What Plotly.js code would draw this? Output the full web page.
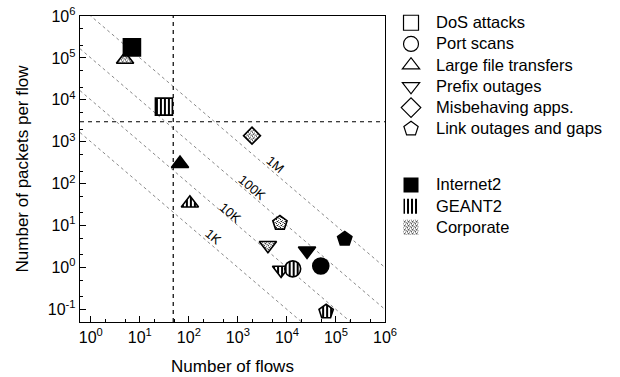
<!DOCTYPE html>
<html>
<head>
<meta charset="utf-8">
<script src="https://cdn.plot.ly/plotly-3.0.1.min.js"></script>
<style>
  html, body { margin: 0; padding: 0; background: #fff; }
  #chart { width: 620px; height: 377px; }
</style>
</head>
<body>
<div id="chart"></div>
<script>
// ---------------- data ----------------
const eventTypes = ['DoS attacks', 'Port scans', 'Large file transfers', 'Prefix outages', 'Misbehaving apps.', 'Link outages and gaps'];
const networks = ['Internet2', 'GEANT2', 'Corporate'];

const internet2Events = ['DoS attacks', 'Large file transfers', 'Prefix outages', 'Port scans', 'Link outages and gaps'];
const internet2Flows = [6.9, 66, 25700, 49000, 151000];
const internet2PktsPerFlow = [178000, 300, 2.5, 1.09, 4.8];

const geant2Events = ['DoS attacks', 'Large file transfers', 'Prefix outages', 'Port scans', 'Link outages and gaps'];
const geant2Flows = [31, 105, 7600, 13100, 63000];
const geant2PktsPerFlow = [6900, 34, 0.87, 0.93, 0.088];

const corporateEvents = ['Large file transfers', 'Misbehaving apps.', 'Link outages and gaps', 'Prefix outages'];
const corporateFlows = [5.0, 1940, 7200, 4100];
const corporatePktsPerFlow = [92000, 1400, 11.5, 3.4];

const packetTotals = [1e3, 1e4, 1e5, 1e6];           // iso-lines: flows x packets/flow
const packetTotalLabels = ['1K', '10K', '100K', '1M'];
const flowThreshold = 48;
const pktThreshold = 3000;

const xTickVals = [1, 10, 100, 1e3, 1e4, 1e5, 1e6];
const xTickText = ['10<sup>0</sup>', '10<sup>1</sup>', '10<sup>2</sup>', '10<sup>3</sup>', '10<sup>4</sup>', '10<sup>5</sup>', '10<sup>6</sup>'];
const yTickVals = [0.1, 1, 10, 100, 1e3, 1e4, 1e5, 1e6];
const yTickText = ['10<sup>-1</sup>', '10<sup>0</sup>', '10<sup>1</sup>', '10<sup>2</sup>', '10<sup>3</sup>', '10<sup>4</sup>', '10<sup>5</sup>', '10<sup>6</sup>'];

// ---------------- styles ----------------
const FONT = 'Liberation Sans, Arial, Helvetica, sans-serif';
const symbolOf = {
  'DoS attacks': 'square', 'Port scans': 'circle', 'Large file transfers': 'triangle-up',
  'Prefix outages': 'triangle-down', 'Misbehaving apps.': 'diamond', 'Link outages and gaps': 'pentagon'
};
const sizeOf = {
  'DoS attacks': 17, 'Port scans': 16, 'Large file transfers': 15,
  'Prefix outages': 15, 'Misbehaving apps.': 13, 'Link outages and gaps': 15
};
const netFill = { 'Internet2': '#000000', 'GEANT2': '#777777', 'Corporate': '#bbbbbb' };
const xLogRange = [-0.22, 6];
const yLogRange = [-1.3, 6];

const traces = [];

// iso-lines
packetTotals.forEach(function (c) {
  const xs = [Math.pow(10, xLogRange[0]), Math.pow(10, xLogRange[1])];
  traces.push({
    x: xs, y: xs.map(function (v) { return c / v; }),
    mode: 'lines', line: { color: '#888', width: 1, dash: 'dot' },
    showlegend: false, hoverinfo: 'skip'
  });
});
// threshold lines
traces.push({
  x: [flowThreshold, flowThreshold], y: [Math.pow(10, yLogRange[0]), Math.pow(10, yLogRange[1])],
  mode: 'lines', line: { color: '#000', width: 1.2, dash: '4px,4px' }, showlegend: false, hoverinfo: 'skip'
});
traces.push({
  x: [Math.pow(10, xLogRange[0]), Math.pow(10, xLogRange[1])], y: [pktThreshold, pktThreshold],
  mode: 'lines', line: { color: '#000', width: 1.2, dash: '4px,4px' }, showlegend: false, hoverinfo: 'skip'
});

function netTrace(name, events, flows, ppf) {
  return {
    name: name,
    x: flows, y: ppf, mode: 'markers', showlegend: false,
    marker: {
      symbol: events.map(function (e) { return symbolOf[e]; }),
      size: events.map(function (e) { return sizeOf[e]; }),
      color: netFill[name], opacity: 1,
      line: { color: '#000', width: 1.6 }
    }
  };
}
traces.push(netTrace('Corporate', corporateEvents, corporateFlows, corporatePktsPerFlow));
traces.push(netTrace('GEANT2', geant2Events, geant2Flows, geant2PktsPerFlow));
traces.push(netTrace('Internet2', internet2Events, internet2Flows, internet2PktsPerFlow));

// legend entries
function legText(s) { return '<span style="font-size:16.5px">' + s + '</span>'; }
eventTypes.forEach(function (e) {
  traces.push({
    name: legText(e), meta: e, x: [null], y: [null], mode: 'markers', legendgroup: 'events',
    marker: { symbol: symbolOf[e], size: 15, color: '#fff', opacity: 1, line: { color: '#000', width: 1.2 } }
  });
});
networks.forEach(function (n) {
  traces.push({
    name: legText(n), meta: n, x: [null], y: [null], mode: 'markers', legendgroup: 'nets',
    marker: { symbol: 'square', size: 15, color: netFill[n], opacity: 1, line: { color: '#000', width: 0 } }
  });
});

const annotations = [
  { x: 2.49, y: 0.73, text: packetTotalLabels[0] },
  { x: 2.84, y: 1.32, text: packetTotalLabels[1] },
  { x: 3.29, y: 1.92, text: packetTotalLabels[2] },
  { x: 3.76, y: 2.45, text: packetTotalLabels[3] }
].map(function (a) {
  return {
    x: a.x, y: a.y, xref: 'x', yref: 'y', text: a.text, showarrow: false,
    textangle: 40.5, font: { family: FONT, size: 13, color: '#000' }
  };
});

const axisBase = {
  type: 'log', showgrid: false, zeroline: false,
  showline: true, linecolor: '#000', linewidth: 1.3, mirror: true,
  ticks: 'inside', ticklen: 6, tickwidth: 1, tickcolor: '#000',
  tickfont: { family: FONT, size: 16, color: '#000' },
  tickmode: 'array', automargin: false
};

function minorVals(lo, hi) {
  const v = [];
  for (let d = lo; d <= hi; d++) { v.push(2 * Math.pow(10, d)); v.push(5 * Math.pow(10, d)); }
  return v;
}

const layout = {
  width: 620, height: 377,
  margin: { l: 80, r: 235, t: 16, b: 55 },
  paper_bgcolor: '#fff', plot_bgcolor: '#fff',
  font: { family: FONT, size: 14, color: '#000' },
  xaxis: Object.assign({}, axisBase, {
    range: xLogRange, tickvals: xTickVals, ticktext: xTickText,
    minor: { tickmode: 'array', tickvals: minorVals(-1, 5), ticks: 'inside', ticklen: 3, tickcolor: '#000' },
    title: { text: 'Number of flows', font: { family: FONT, size: 17, color: '#000' }, standoff: 15 }
  }),
  yaxis: Object.assign({}, axisBase, {
    range: yLogRange, tickvals: yTickVals, ticktext: yTickText,
    minor: { tickmode: 'array', tickvals: minorVals(-2, 5), ticks: 'inside', ticklen: 3, tickcolor: '#000' },
    title: { text: 'Number of packets per flow', font: { family: FONT, size: 17, color: '#000' }, standoff: 14 }
  }),
  showlegend: true,
  legend: {
    xref: 'container', yref: 'container',
    x: 0.6226, xanchor: 'left', y: 0.981, yanchor: 'top',
    font: { family: FONT, size: 14, color: '#000' },
    tracegroupgap: 35, itemwidth: 40, bgcolor: 'rgba(0,0,0,0)', maxheight: 377
  },
  annotations: annotations
};

function traceOf(el) {
  let d = el.__data__;
  while (Array.isArray(d)) d = d[0];
  return d && d.trace;
}

function applyPatterns(gd) {
  const NS = 'http://www.w3.org/2000/svg';
  const svg = gd.querySelector('svg.main-svg');
  let defs = svg.querySelector('defs');
  if (!defs) { defs = document.createElementNS(NS, 'defs'); svg.insertBefore(defs, svg.firstChild); }
  function mk(id, w, h, rects) {
    const p = document.createElementNS(NS, 'pattern');
    p.setAttribute('id', id); p.setAttribute('patternUnits', 'userSpaceOnUse');
    p.setAttribute('width', w); p.setAttribute('height', h);
    const bg = document.createElementNS(NS, 'rect');
    bg.setAttribute('width', w); bg.setAttribute('height', h); bg.setAttribute('fill', '#fff');
    p.appendChild(bg);
    rects.forEach(function (r) {
      const e = document.createElementNS(NS, 'rect');
      e.setAttribute('x', r[0]); e.setAttribute('y', r[1]);
      e.setAttribute('width', r[2]); e.setAttribute('height', r[3]);
      e.setAttribute('fill', r[4] || '#000');
      p.appendChild(e);
    });
    defs.appendChild(p);
  }
  mk('vstripe', 4, 4, [[0, 0, 2, 4]]);
  mk('speckle', 4, 4, [[0, 0, 1, 1], [2, 1, 1, 1, '#555'], [1, 2, 1, 1], [3, 3, 1, 1, '#555'], [2, 3, 1, 1, '#999'], [0, 2, 1, 1, '#aaa']]);
  const fillFor = { 'GEANT2': 'url(#vstripe)', 'Corporate': 'url(#speckle)' };
  gd.querySelectorAll('.scatterlayer .trace').forEach(function (g) {
    const t = traceOf(g);
    if (t && fillFor[t.name]) {
      g.querySelectorAll('path.point').forEach(function (p) { p.style.fill = fillFor[t.name]; });
    }
  });
  gd.querySelectorAll('.legend .traces').forEach(function (g) {
    const t = traceOf(g);
    if (t && fillFor[t.meta]) {
      g.querySelectorAll('.legendpoints path').forEach(function (p) { p.style.fill = fillFor[t.meta]; });
    }
  });
}

Plotly.newPlot('chart', traces, layout, { staticPlot: true, displayModeBar: false })
  .then(applyPatterns);
</script>
</body>
</html>
